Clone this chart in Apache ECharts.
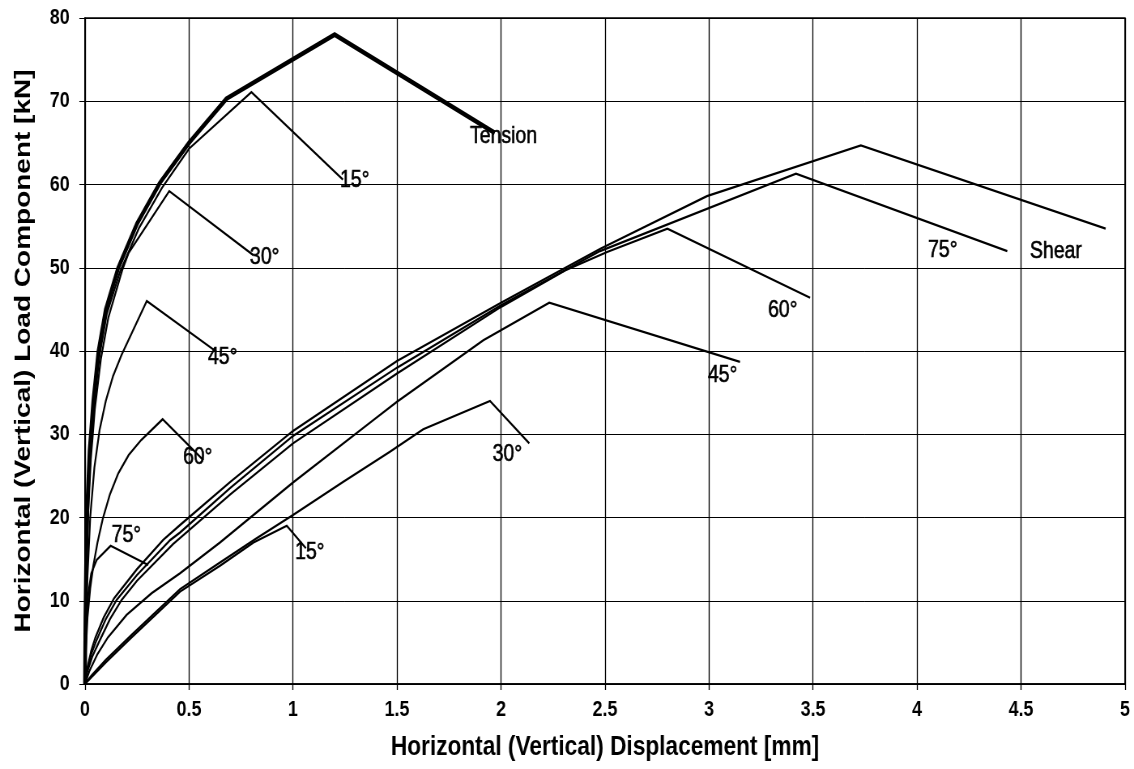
<!DOCTYPE html>
<html>
<head>
<meta charset="utf-8">
<script src="https://cdn.jsdelivr.net/npm/echarts@6/dist/echarts.min.js"></script>
<style>
html,body{margin:0;padding:0;background:#fff;overflow:hidden;}
#wrap{width:1134px;height:769px;overflow:hidden;position:relative;}
#chart{width:1400px;height:769px;transform:scaleX(0.81);transform-origin:0 0;}
</style>
</head>
<body>
<div id="wrap"><div id="chart"></div></div>
<script>
// ---- axis settings ----
const xMin = 0, xMax = 5, xStep = 0.5;
const yMin = 0, yMax = 80, yStep = 10;
const xTitle = 'Horizontal (Vertical) Displacement [mm]';
const yTitle = 'Horizontal (Vertical) Load Component [kN]';

// ---- tension-side curves [displacement mm, load kN] ----
const tension = [[0,0],[0.002,8],[0.006,16],[0.012,22],[0.022,28],[0.04,34],[0.065,40],[0.1,45],[0.16,50],[0.25,55.3],[0.36,60.2],[0.5,65],[0.68,70.3],[1.2,78],[1.97,66.2]];
const t15 = [[0,0],[0.002,7.5],[0.007,15.5],[0.014,21.5],[0.025,27.5],[0.043,33.5],[0.07,39.5],[0.105,44.5],[0.168,49.5],[0.26,54.8],[0.37,59.6],[0.5,64.3],[0.8,71.1],[1.24,60.6]];
const t30 = [[0,0],[0.003,7],[0.008,15],[0.016,21],[0.028,27],[0.047,33],[0.076,39],[0.112,44],[0.18,49.8],[0.21,51.8],[0.405,59.2],[0.81,51.5]];
const t45 = [[0,0],[0.004,6],[0.012,13],[0.025,20],[0.045,26],[0.07,30.5],[0.1,34],[0.135,37],[0.175,39.5],[0.297,46],[0.633,39.9]];
const t60 = [[0,0],[0.004,4],[0.012,8],[0.025,11.5],[0.04,14.2],[0.06,17],[0.085,19.8],[0.12,22.8],[0.16,25.3],[0.21,27.5],[0.27,29.3],[0.373,31.8],[0.569,26.9]];
const t75 = [[0,0],[0.003,4],[0.008,8],[0.016,10.9],[0.03,13.3],[0.056,14.9],[0.123,16.6],[0.304,14.3]];

// ---- shear-side curves ----
const shear = [[0,0],[0.01,1.8],[0.03,4],[0.05,5.6],[0.09,8],[0.14,10.3],[0.25,13.8],[0.376,17.3],[0.457,19.1],[0.7,24.3],[1,30.4],[1.5,38.8],[2,45.8],[2.48,52.3],[2.99,58.6],[3.73,64.7],[4.907,54.7]];
const s75 = [[0,0],[0.01,1.6],[0.03,3.6],[0.056,5.3],[0.1,7.8],[0.152,10.1],[0.25,13.1],[0.41,17.3],[0.457,18.2],[0.7,23.6],[1,29.8],[1.5,38.0],[2,45.5],[2.476,52.0],[3.418,61.3],[4.434,52.0]];
const s60 = [[0,0],[0.01,1.4],[0.035,3.3],[0.072,5.3],[0.12,7.8],[0.176,10.1],[0.25,12.4],[0.423,16.8],[0.7,22.8],[1,28.9],[1.5,37.3],[2,45.3],[2.31,49.7],[2.51,51.9],[2.8,54.7],[3.486,46.4]];
const s45 = [[0,0],[0.02,1.5],[0.06,3.6],[0.11,5.6],[0.2,8.3],[0.32,10.9],[0.457,13.3],[0.649,17.0],[1,24.2],[1.386,31.7],[1.5,33.9],[1.915,41.3],[2.232,45.8],[3.149,38.7]];
const s30 = [[0,0],[0.03,1.0],[0.1,2.9],[0.224,5.9],[0.457,11.4],[0.649,14.6],[0.825,17.5],[1.0,20.3],[1.242,24.3],[1.466,27.9],[1.626,30.6],[1.947,34.0],[2.136,28.9]];
const s15 = [[0,0],[0.03,0.8],[0.1,2.6],[0.224,5.6],[0.457,11.1],[0.649,14.2],[0.81,17.0],[0.97,19.0],[1.062,16.3]];

// ---- curve annotations (left edge x, centre y, in data units) ----
const labelText = ['Tension','15°','30°','45°','60°','75°','15°','30°','45°','60°','75°','Shear'];
const labelX = [1.851,1.226,0.793,0.591,0.471,0.128,1.01,1.96,2.995,3.284,4.053,4.543];
const labelY = [65.8,60.5,51.2,39.2,27.2,17.8,15.8,27.6,37.1,44.9,52.1,52.0];

const curveList = [
  {name:'Tension', data:tension, w:4.6},
  {name:'15° (tension)', data:t15, w:2.2},
  {name:'30° (tension)', data:t30, w:2.2},
  {name:'45° (tension)', data:t45, w:2.2},
  {name:'60° (tension)', data:t60, w:2.2},
  {name:'75° (tension)', data:t75, w:2.2},
  {name:'Shear', data:shear, w:2.2},
  {name:'75° (shear)', data:s75, w:2.2},
  {name:'60° (shear)', data:s60, w:2.2},
  {name:'45° (shear)', data:s45, w:2.2},
  {name:'30° (shear)', data:s30, w:2.2},
  {name:'15° (shear)', data:s15, w:2.2}
];

const K = 0.81;            // horizontal squash of the original figure
const W = 1134 / K;
const FONT = "'Liberation Sans', Arial, sans-serif";

const series = curveList.map((c, i) => ({
  name: c.name,
  type: 'line',
  data: c.data,
  showSymbol: false,
  symbol: 'none',
  smooth: false,
  z: i === 0 ? 5 : 3,
  lineStyle: {color: '#000', width: c.w, join: 'miter'},
  emphasis: {disabled: true},
  animation: false
}));

series.push({
  name: 'labels',
  type: 'scatter',
  symbolSize: 0,
  silent: true,
  animation: false,
  itemStyle: {opacity: 1, color: '#000'},
  data: labelText.map((t, i) => ({name: t, value: [labelX[i], labelY[i]]})),
  label: {
    show: true,
    position: [0, 0],
    align: 'left',
    verticalAlign: 'middle',
    formatter: p => p.name,
    color: '#000',
    opacity: 1,
    textBorderColor: '#000',
    textBorderWidth: 0.6,
    fontFamily: FONT,
    fontSize: 24
  },
  z: 6
});

const chart = echarts.init(document.getElementById('chart'), null, {renderer: 'canvas'});
chart.setOption({
  backgroundColor: '#fff',
  animation: false,
  grid: {
    left: 85 / K, right: W - 1125 / K, top: 18, bottom: 85,
    show: true, borderColor: '#000', borderWidth: 1.6, backgroundColor: 'transparent'
  },
  xAxis: {
    type: 'value', min: xMin, max: xMax, interval: xStep,
    name: xTitle, nameLocation: 'middle', nameGap: 49,
    nameTextStyle: {fontFamily: FONT, fontSize: 28, fontWeight: 'bold', color: '#000'},
    axisLine: {show: true, onZero: false, lineStyle: {color: '#000', width: 1.6}},
    axisTick: {show: true, inside: false, length: 6, lineStyle: {color: '#000', width: 1.3}},
    axisLabel: {fontFamily: FONT, fontSize: 22, fontWeight: 'bold', color: '#000', margin: 15},
    splitLine: {show: true, lineStyle: {color: '#000', width: 1.3}}
  },
  yAxis: {
    type: 'value', min: yMin, max: yMax, interval: yStep,
    name: yTitle, nameLocation: 'middle', nameGap: 62, nameRotate: 90,
    nameTextStyle: {fontFamily: FONT, fontSize: 28, fontWeight: 'bold', color: '#000'},
    axisLine: {show: true, onZero: false, lineStyle: {color: '#000', width: 1.6}},
    axisTick: {show: true, inside: false, length: 7, lineStyle: {color: '#000', width: 1}},
    axisLabel: {fontFamily: FONT, fontSize: 22, fontWeight: 'bold', color: '#000', margin: 19},
    splitLine: {show: true, lineStyle: {color: '#000', width: 1}}
  },
  series: series
});
</script>
</body>
</html>
